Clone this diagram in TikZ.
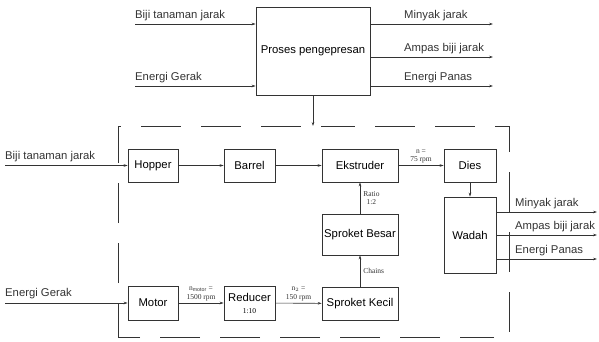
\documentclass[tikz,border=0pt]{standalone}
\usepackage{fontspec}
\setmainfont{Liberation Sans}
\newfontfamily\smallserif{Liberation Serif}
\usetikzlibrary{arrows.meta}
\definecolor{ink}{gray}{0.2}
\begin{document}
\begin{tikzpicture}[x=1pt,y=-1pt,
  font=\fontsize{11.3}{13}\selectfont,
  blk/.style={draw=ink,line width=0.6pt,inner sep=1pt,align=center},
  con/.style={draw=ink,line width=0.6pt,-{Stealth[length=4pt,width=2.6pt]}},
  lbl/.style={inner sep=1pt,anchor=south west,text=ink},
  tiny/.style={inner sep=0pt,align=center,font=\smallserif\fontsize{7.5}{8.5}\selectfont,text=ink}]
\useasboundingbox (0,0) rectangle (599,342);
% top process
\node[blk,minimum width=114pt,minimum height=88pt] (pp) at (313,51) {Proses pengepresan};
\coordinate (i1) at (135,24);
\coordinate (i2) at (135,86);
\draw[con] (i1) -- (i1 -| pp.west);
\draw[con] (i2) -- (i2 -| pp.west);
\node[lbl] (li1) at (134,22) {Biji tanaman jarak};
\node[lbl] (li2) at (134,84) {Energi Gerak};
\coordinate (o1) at (493,24);
\coordinate (o2) at (493,57);
\coordinate (o3) at (493,86);
\draw[con] (o1 -| pp.east) -- (o1);
\draw[con] (o2 -| pp.east) -- (o2);
\draw[con] (o3 -| pp.east) -- (o3);
\node[lbl] (lo1) at (403,22) {Minyak jarak};
\node[lbl] (lo2) at (403,55) {Ampas biji jarak};
\node[lbl] (lo3) at (403,84) {Energi Panas};
% dashed border
\draw[ink,line width=0.6pt,dash pattern=on 34pt off 20pt on 40pt off 20pt on 40pt off 20pt on 40pt off 20pt on 40pt off 20pt on 40pt off 20pt on 40pt off 20pt]
  (118,337) -- (118,126) -- (509,126) -- (509,337) -- cycle;
\coordinate (dtop) at (313,126);
\draw[con] (pp.south) -- (dtop);
% blocks
\node[blk,minimum width=50pt,minimum height=33pt] (hop) at (153,165.5) {Hopper};
\node[blk,minimum width=51pt,minimum height=33pt] (bar) at (249.5,165.5) {Barrel};
\node[blk,minimum width=76pt,minimum height=33pt] (eks) at (360,165.5) {Ekstruder};
\node[blk,minimum width=52pt,minimum height=33pt] (dies) at (470,165.5) {Dies};
\node[blk,minimum width=52pt,minimum height=76pt] (wad) at (470,235) {Wadah};
\node[blk,minimum width=76pt,minimum height=41pt] (spb) at (360,234.5) {Sproket Besar};
\node[blk,minimum width=76pt,minimum height=33pt] (spk) at (360,303.5) {Sproket Kecil};
\node[blk,minimum width=50pt,minimum height=34pt] (mot) at (153,303) {Motor};
\node[blk,minimum width=51pt,minimum height=34pt] (red) at (249.5,303) {Reducer\\[-1pt]{\smallserif\fontsize{7.5}{8.5}\selectfont 1:10}};
% inputs
\coordinate (bin) at (5,165.5);
\coordinate (ein) at (5,303);
\draw[con] (bin) -- (hop.west);
\draw[con] (ein) -- (mot.west);
\node[lbl] (lb) at (4,163) {Biji tanaman jarak};
\node[lbl] (le) at (4,300) {Energi Gerak};
% flow
\draw[con] (hop) -- (bar);
\draw[con] (bar) -- (eks);
\draw[con] (eks) -- node[tiny,above=2pt] {n =\\75 rpm} (dies);
\draw[con] (dies) -- (wad);
\draw[con] (spb) -- node[tiny,right=3pt] {Ratio\\1:2} (eks);
\draw[con] (spk) -- node[tiny,right=3pt] {Chains} (spb);
\draw[con] (mot) -- node[tiny,above=2pt] {n$_{\mathrm{motor}}$ =\\1500 rpm} (red);
\draw[con] (red) -- node[tiny,above=2pt] {n$_2$ =\\150 rpm} (spk);
% outputs of wadah
\coordinate (w1) at (597,212);
\coordinate (w2) at (597,235);
\coordinate (w3) at (597,259);
\draw[con] (w1 -| wad.east) -- (w1);
\draw[con] (w2 -| wad.east) -- (w2);
\draw[con] (w3 -| wad.east) -- (w3);
\node[lbl] (lw1) at (514,210) {Minyak jarak};
\node[lbl] (lw2) at (514,233) {Ampas biji jarak};
\node[lbl] (lw3) at (514,257) {Energi Panas};
\end{tikzpicture}
\end{document}
